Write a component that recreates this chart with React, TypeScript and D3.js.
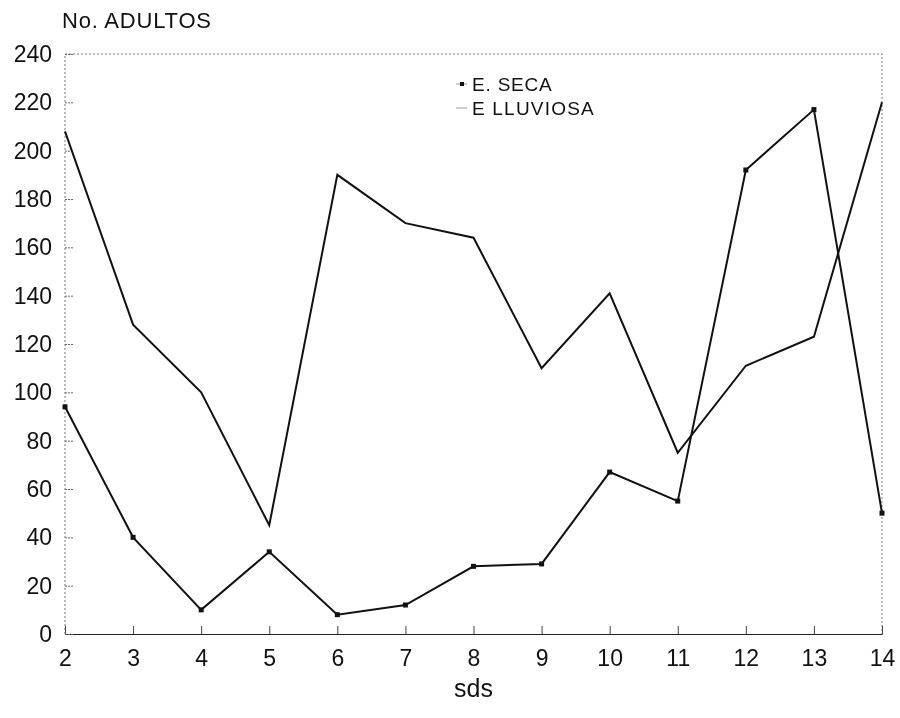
import React, { useEffect, useRef } from "react";
import * as d3 from "d3";

// sampling sites (sds)
const sites = [2, 3, 4, 5, 6, 7, 8, 9, 10, 11, 12, 13, 14];
// E. SECA (dry season), drawn with point markers
const seca = [94, 40, 10, 34, 8, 12, 28, 29, 67, 55, 192, 217, 50];
// E LLUVIOSA (rainy season), line only
const lluviosa = [208, 128, 100, 45, 190, 170, 164, 110, 141, 75, 111, 123, 220];
const yTicks = [0, 20, 40, 60, 80, 100, 120, 140, 160, 180, 200, 220, 240];

const W = 900;
const H = 718;
const margin = { top: 54, right: 18, bottom: 84, left: 65 };

export default function App() {
  const ref = useRef<SVGSVGElement>(null);

  useEffect(() => {
    const svg = d3.select(ref.current);
    svg.selectAll("*").remove();

    const x = d3.scaleLinear().domain([2, 14]).range([margin.left, W - margin.right]);
    const y = d3.scaleLinear().domain([0, 240]).range([H - margin.bottom, margin.top]);
    const font = "'Liberation Sans', Arial, sans-serif";

    // frame: dotted top/left/right, solid bottom
    const x0 = x(2), x1 = x(14), y0 = y(0), y1 = y(240);
    svg.append("path")
      .attr("d", `M${x0},${y0}V${y1}H${x1}V${y0}`)
      .attr("fill", "none")
      .attr("stroke", "#777")
      .attr("stroke-width", 1)
      .attr("stroke-dasharray", "2,2");

    const xAxis = d3.axisBottom(x)
      .tickValues(sites)
      .tickSizeInner(-8)
      .tickSizeOuter(0)
      .tickPadding(16)
      .tickFormat(d3.format("d"));
    const gx = svg.append("g").attr("transform", `translate(0,${y0})`).call(xAxis);
    gx.select(".domain").attr("stroke", "#222");
    gx.selectAll(".tick line").attr("stroke", "#444");
    gx.selectAll("text").attr("font-family", font).attr("font-size", 23).attr("fill", "#111");

    const yAxis = d3.axisLeft(y)
      .tickValues(yTicks)
      .tickSizeInner(-8)
      .tickSizeOuter(0)
      .tickPadding(13);
    const gy = svg.append("g").attr("transform", `translate(${x0},0)`).call(yAxis);
    gy.select(".domain").remove();
    gy.selectAll(".tick line").attr("stroke", "#666").attr("stroke-dasharray", "2,1");
    gy.selectAll("text").attr("font-family", font).attr("font-size", 23).attr("fill", "#111");

    const line = d3.line<number>()
      .x((_, i) => x(sites[i]))
      .y((d) => y(d));

    svg.append("path")
      .datum(lluviosa)
      .attr("d", line)
      .attr("fill", "none")
      .attr("stroke", "#111")
      .attr("stroke-width", 2);

    svg.append("path")
      .datum(seca)
      .attr("d", line)
      .attr("fill", "none")
      .attr("stroke", "#111")
      .attr("stroke-width", 2);

    svg.selectAll("rect.pt")
      .data(seca)
      .enter()
      .append("rect")
      .attr("class", "pt")
      .attr("x", (_, i) => x(sites[i]) - 2.5)
      .attr("y", (d) => y(d) - 2.5)
      .attr("width", 5)
      .attr("height", 5)
      .attr("fill", "#111");

    // legend
    const lg = svg.append("g").attr("font-family", font).attr("font-size", 19).attr("fill", "#111");
    lg.append("line").attr("x1", 456).attr("x2", 467).attr("y1", 84).attr("y2", 84)
      .attr("stroke", "#999").attr("stroke-width", 1);
    lg.append("rect").attr("x", 460).attr("y", 82).attr("width", 4).attr("height", 4).attr("fill", "#111");
    lg.append("text").attr("x", 472).attr("y", 91).attr("letter-spacing", 0.8).text("E.  SECA");
    lg.append("line").attr("x1", 456).attr("x2", 467).attr("y1", 108).attr("y2", 108)
      .attr("stroke", "#999").attr("stroke-width", 1);
    lg.append("text").attr("x", 472).attr("y", 115).attr("letter-spacing", 1.2).text("E LLUVIOSA");

    svg.append("text")
      .attr("x", 62).attr("y", 28)
      .attr("font-family", font).attr("font-size", 22).attr("letter-spacing", 0.8).attr("fill", "#111")
      .text("No.  ADULTOS");

    svg.append("text")
      .attr("x", (x0 + x1) / 2).attr("y", 697)
      .attr("text-anchor", "middle")
      .attr("font-family", font).attr("font-size", 25).attr("fill", "#111")
      .text("sds");
  }, []);

  return (
    <svg
      ref={ref}
      width={W}
      height={H}
      style={{ position: "fixed", left: 0, top: 0, display: "block", overflow: "visible" }}
    />
  );
}
